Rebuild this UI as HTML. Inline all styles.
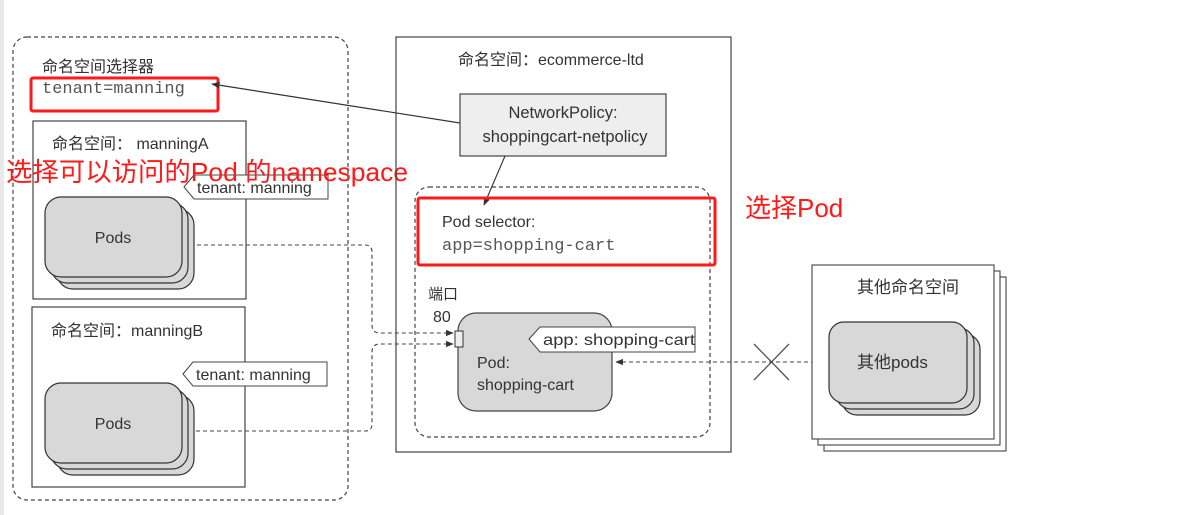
<!DOCTYPE html>
<html><head><meta charset="utf-8"><style>
html,body{margin:0;padding:0;background:#fff;}
svg{display:block}
text{font-family:"Liberation Sans","Noto Sans CJK SC",sans-serif;fill:#333;}
.m{font-family:"Liberation Mono","Noto Sans CJK SC",monospace;fill:#555;}
.r{fill:#ff1a1a;}
</style></head><body>
<svg width="1197" height="515" viewBox="0 0 1197 515" xmlns="http://www.w3.org/2000/svg">
<defs>
<marker id="ah" viewBox="0 0 10 10" refX="9" refY="5" markerWidth="7" markerHeight="7" orient="auto-start-reverse"><path d="M0,1 L10,5 L0,9 z" fill="#333"/></marker>
</defs>
<rect x="0" y="0" width="4" height="515" fill="#e9e9ec"/>
<!-- left dashed container -->
<rect x="13" y="37" width="335" height="463" rx="14" fill="none" stroke="#444" stroke-width="1.2" stroke-dasharray="4,3"/>
<text x="42" y="72" font-size="16">命名空间选择器</text>
<text x="42" y="93" class="m" font-size="17">tenant=manning</text>
<rect x="31" y="78" width="187" height="33" fill="none" stroke="#ff1a1a" stroke-width="3" rx="2"/>
<line x1="460" y1="123" x2="212" y2="84" stroke="#333" stroke-width="1.2" marker-end="url(#ah)"/>

<!-- manningA -->
<rect x="33" y="121" width="213" height="178" fill="#fff" stroke="#444" stroke-width="1.2"/>
<text x="52" y="149" font-size="16">命名空间： manningA</text>
<path d="M184,187 L194,175 L328,175 L328,199 L194,199 Z" fill="#fff" stroke="#444" stroke-width="1"/>
<text x="197" y="193" font-size="16">tenant: manning</text>
<rect x="57" y="209" width="137" height="80" rx="16" fill="#d8d8d8" stroke="#333" stroke-width="1.2"/>
<rect x="51" y="203" width="137" height="80" rx="16" fill="#d8d8d8" stroke="#333" stroke-width="1.2"/>
<rect x="45" y="197" width="137" height="80" rx="16" fill="#d8d8d8" stroke="#333" stroke-width="1.2"/>
<text x="113" y="243" font-size="16" text-anchor="middle">Pods</text>
<text x="6" y="181" font-size="26" class="r" textLength="402" lengthAdjust="spacingAndGlyphs">选择可以访问的Pod 的namespace</text>

<!-- manningB -->
<rect x="32" y="307" width="213" height="180" fill="#fff" stroke="#444" stroke-width="1.2"/>
<text x="51" y="336" font-size="16">命名空间：manningB</text>
<path d="M183,374 L193,362 L327,362 L327,386 L193,386 Z" fill="#fff" stroke="#444" stroke-width="1"/>
<text x="196" y="380" font-size="16">tenant: manning</text>
<rect x="57" y="395" width="137" height="80" rx="16" fill="#d8d8d8" stroke="#333" stroke-width="1.2"/>
<rect x="51" y="389" width="137" height="80" rx="16" fill="#d8d8d8" stroke="#333" stroke-width="1.2"/>
<rect x="45" y="383" width="137" height="80" rx="16" fill="#d8d8d8" stroke="#333" stroke-width="1.2"/>
<text x="113" y="429" font-size="16" text-anchor="middle">Pods</text>

<!-- dashed connectors -->
<path d="M197,245 L365,245 Q372,245 372,252 L372,325 Q372,333 380,333 L453,333" fill="none" stroke="#444" stroke-width="1.1" stroke-dasharray="4,3" marker-end="url(#ah)"/>
<path d="M196,431 L365,431 Q372,431 372,424 L372,352 Q372,344 380,344 L453,344" fill="none" stroke="#444" stroke-width="1.1" stroke-dasharray="4,3" marker-end="url(#ah)"/>

<!-- ecommerce -->
<rect x="396" y="37" width="335" height="415" fill="none" stroke="#444" stroke-width="1.2"/>
<text x="458" y="65" font-size="16">命名空间：ecommerce-ltd</text>
<rect x="460" y="94" width="206" height="62" fill="#eee" stroke="#444" stroke-width="1.2"/>
<text x="563" y="118" font-size="16.5" text-anchor="middle">NetworkPolicy:</text>
<text x="565" y="142" font-size="16.5" text-anchor="middle">shoppingcart-netpolicy</text>
<line x1="505" y1="156" x2="484" y2="205" stroke="#333" stroke-width="1.1" marker-end="url(#ah)"/>
<rect x="415" y="187" width="295" height="250" rx="14" fill="none" stroke="#444" stroke-width="1.2" stroke-dasharray="4,3"/>
<rect x="418" y="198" width="297" height="67" fill="none" stroke="#ff1a1a" stroke-width="3" rx="2"/>
<text x="442" y="227" font-size="16">Pod selector:</text>
<text x="442" y="250" class="m" font-size="17">app=shopping-cart</text>
<text x="745" y="217" font-size="26" class="r">选择Pod</text>
<text x="428" y="299" font-size="15">端口</text>
<text x="433" y="322" font-size="16">80</text>
<rect x="458" y="313" width="154" height="98" rx="18" fill="#d8d8d8" stroke="#444" stroke-width="1.2"/>
<rect x="455" y="331" width="8" height="16" fill="#eee" stroke="#333" stroke-width="1"/>
<path d="M529,339 L540,327 L695,327 L695,352 L540,352 Z" fill="#fff" stroke="#444" stroke-width="1"/>
<text x="543" y="345" font-size="16" textLength="152" lengthAdjust="spacingAndGlyphs">app: shopping-cart</text>
<text x="477" y="368" font-size="16">Pod:</text>
<text x="477" y="390" font-size="16">shopping-cart</text>
<line x1="829" y1="362" x2="616" y2="362" stroke="#444" stroke-width="1.1" stroke-dasharray="4,3" marker-end="url(#ah)"/>
<line x1="754" y1="344" x2="789" y2="380" stroke="#555" stroke-width="1.3"/>
<line x1="789" y1="344" x2="754" y2="380" stroke="#555" stroke-width="1.3"/>

<!-- other namespaces -->
<rect x="824" y="277" width="182" height="174" fill="#fff" stroke="#444" stroke-width="1.1"/>
<rect x="818" y="271" width="182" height="174" fill="#fff" stroke="#444" stroke-width="1.1"/>
<rect x="812" y="265" width="182" height="174" fill="#fff" stroke="#444" stroke-width="1.1"/>
<text x="857" y="293" font-size="17">其他命名空间</text>
<rect x="842" y="334" width="138" height="81" rx="15" fill="#d8d8d8" stroke="#333" stroke-width="1.2"/>
<rect x="836" y="328" width="138" height="81" rx="15" fill="#d8d8d8" stroke="#333" stroke-width="1.2"/>
<rect x="829" y="322" width="138" height="81" rx="15" fill="#d8d8d8" stroke="#333" stroke-width="1.2"/>
<text x="857" y="368" font-size="17">其他pods</text>
</svg>
</body></html>
